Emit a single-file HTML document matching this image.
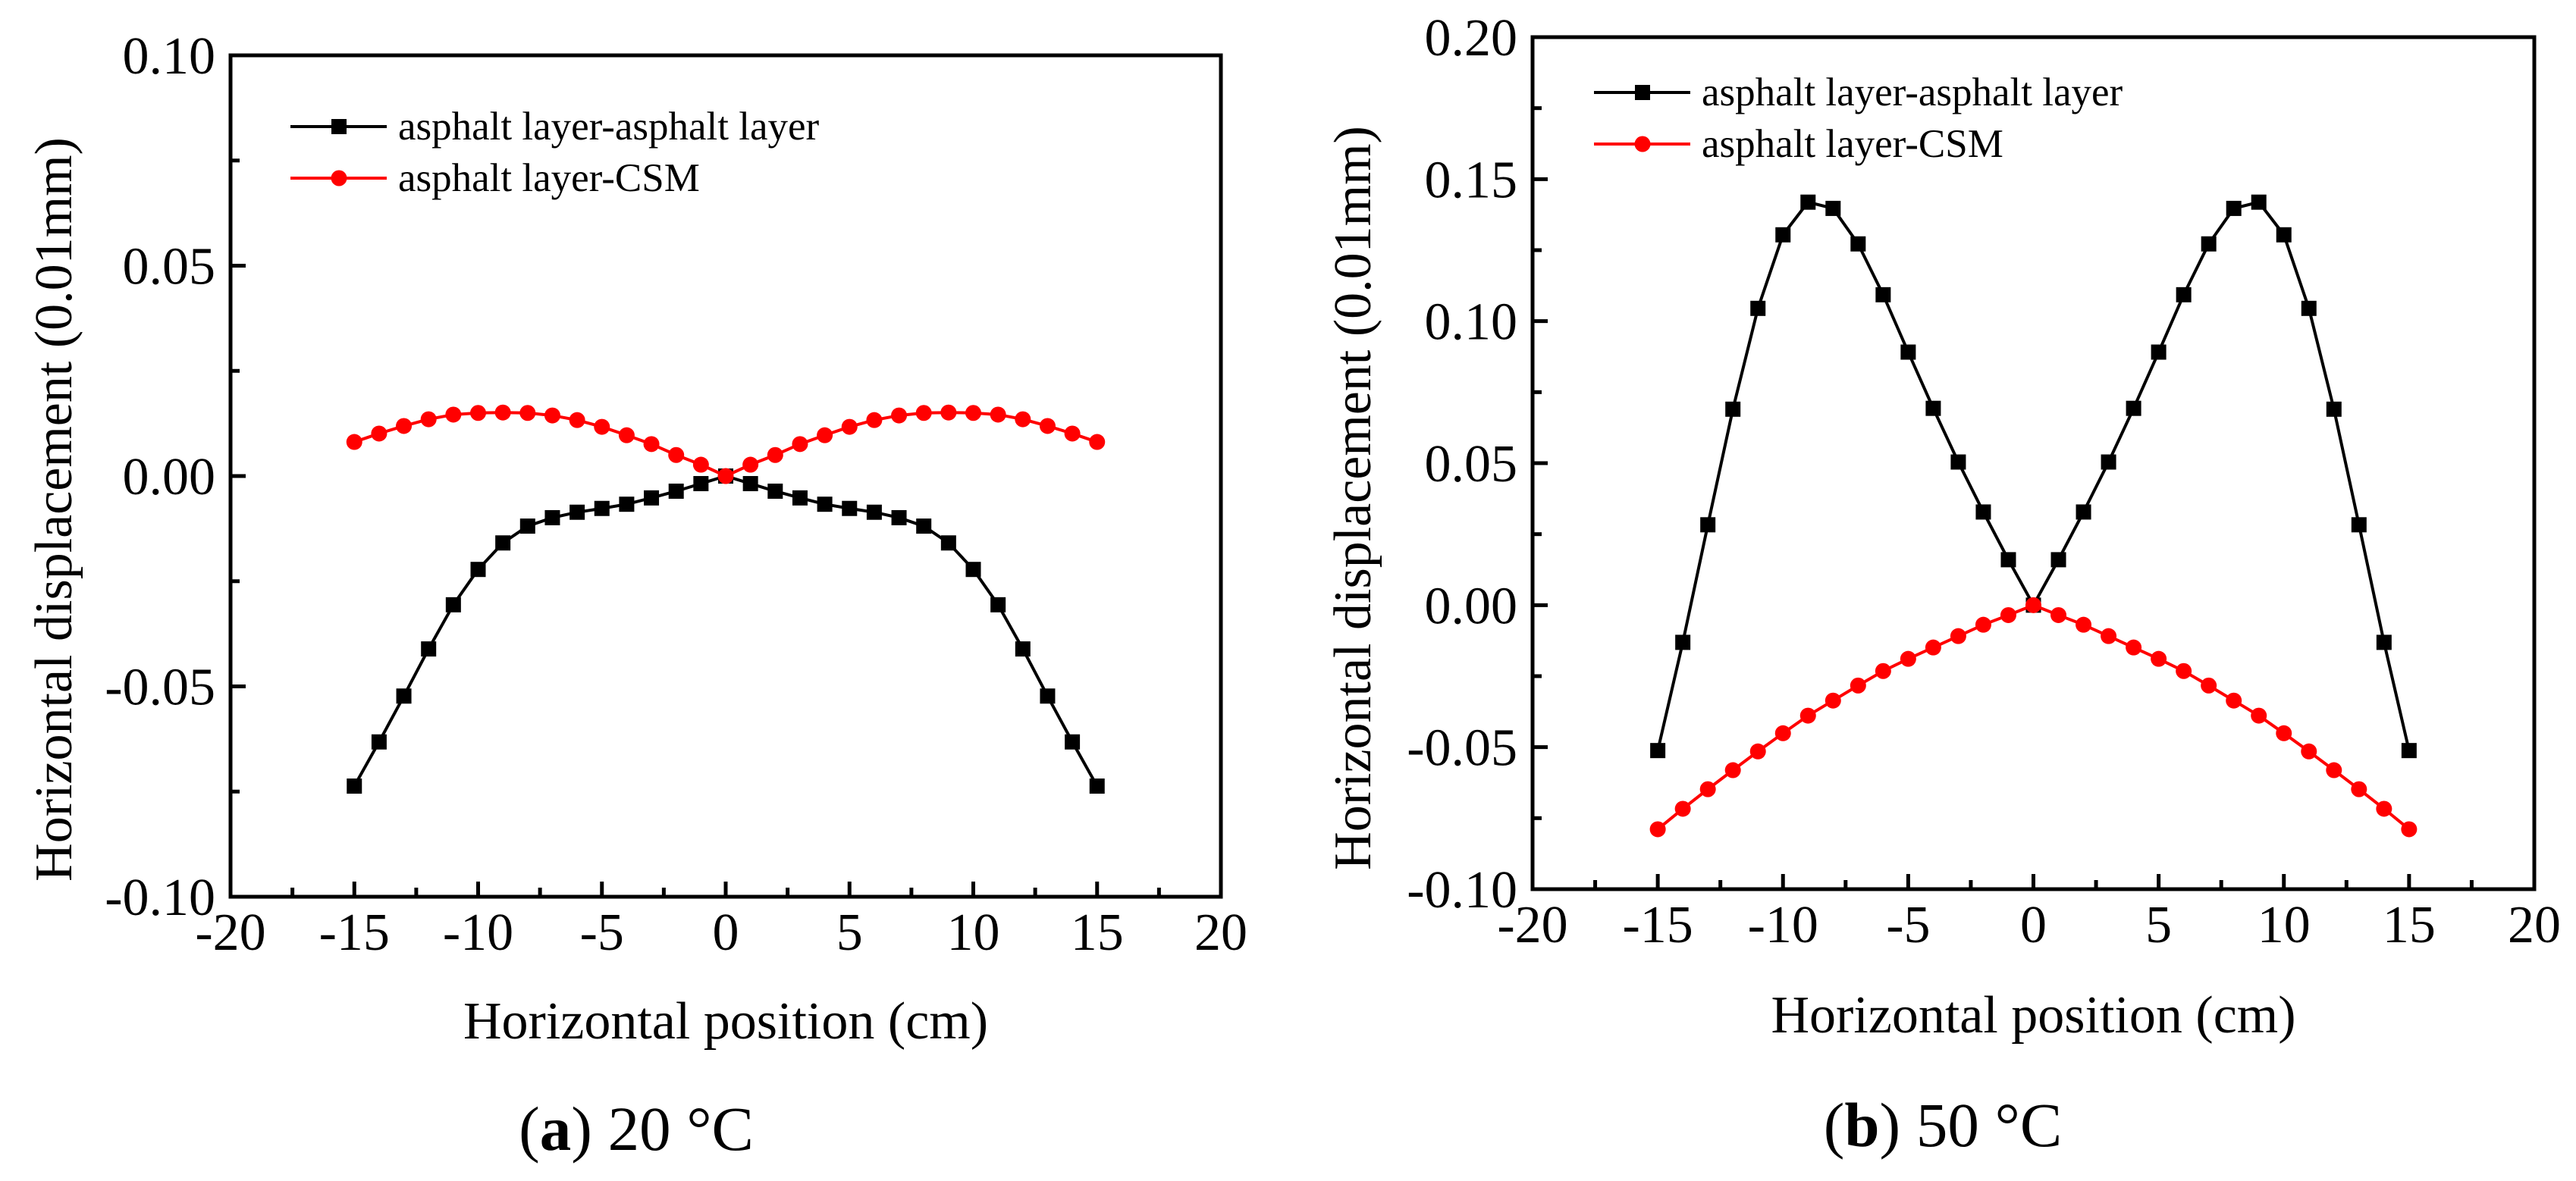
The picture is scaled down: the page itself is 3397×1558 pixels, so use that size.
<!DOCTYPE html>
<html><head><meta charset="utf-8"><style>
html,body{margin:0;padding:0;background:#fff;}
svg{display:block;font-family:"Liberation Serif",serif;}
</style></head><body>
<svg id="fig" width="3397" height="1558" viewBox="0 0 3397 1558" xmlns="http://www.w3.org/2000/svg"></svg>
<script>
const xCats = [-15,-14,-13,-12,-11,-10,-9,-8,-7,-6,-5,-4,-3,-2,-1,0,1,2,3,4,5,6,7,8,9,10,11,12,13,14,15];
const xTicks = [-20,-15,-10,-5,0,5,10,15,20];
const yTicksA = ["-0.10","-0.05","0.00","0.05","0.10"];
const yTicksB = ["-0.10","-0.05","0.00","0.05","0.10","0.15","0.20"];
const blackA = [-0.0737,-0.0632,-0.0523,-0.0411,-0.0306,-0.0222,-0.0159,-0.0119,-0.0099,-0.0086,-0.0077,-0.0067,-0.0052,-0.0036,-0.0018,0,-0.0018,-0.0036,-0.0052,-0.0067,-0.0077,-0.0086,-0.0099,-0.0119,-0.0159,-0.0222,-0.0306,-0.0411,-0.0523,-0.0632,-0.0737];
const redA = [0.0081,0.0101,0.0119,0.0135,0.0146,0.0150,0.0151,0.0150,0.0144,0.0133,0.0117,0.0097,0.0076,0.0050,0.0027,0,0.0027,0.0050,0.0076,0.0097,0.0117,0.0133,0.0144,0.0150,0.0151,0.0150,0.0146,0.0135,0.0119,0.0101,0.0081];
const blackB = [-0.0512,-0.0131,0.0283,0.0690,0.1045,0.1304,0.1419,0.1397,0.1272,0.1093,0.0891,0.0693,0.0504,0.0328,0.0160,0,0.0160,0.0328,0.0504,0.0693,0.0891,0.1093,0.1272,0.1397,0.1419,0.1304,0.1045,0.0690,0.0283,-0.0131,-0.0512];
const redB = [-0.0789,-0.0717,-0.0648,-0.0581,-0.0515,-0.0451,-0.0389,-0.0336,-0.0283,-0.0232,-0.0189,-0.0149,-0.0109,-0.0069,-0.0035,0,-0.0035,-0.0069,-0.0109,-0.0149,-0.0189,-0.0232,-0.0283,-0.0336,-0.0389,-0.0451,-0.0515,-0.0581,-0.0648,-0.0717,-0.0789];

const NS="http://www.w3.org/2000/svg";
const svg=document.getElementById('fig');
function mk(tag,attrs,parent){const e=document.createElementNS(NS,tag);for(const k in attrs)e.setAttribute(k,attrs[k]);(parent||svg).appendChild(e);return e;}

function panel(cfg){
  const g=mk('g',{});
  
  
  const L=cfg.L,R=cfg.R,T=cfg.T,B=cfg.B;
  const xs=v=>L+(v+20)/40*(R-L);
  const ymin=parseFloat(cfg.yt[0]),ymax=parseFloat(cfg.yt[cfg.yt.length-1]);
  const ys=v=>B-(v-ymin)/(ymax-ymin)*(B-T);
  // frame
  const fr=mk('rect',{x:L,y:T,width:R-L,height:B-T,fill:'none',stroke:'#000','stroke-width':5},g);
  
  
  // x ticks
  for(let v=-20;v<=20;v+=2.5){
    const major=(v%5===0);const len=major?20:12;
    mk('line',{x1:xs(v),x2:xs(v),y1:B,y2:B-len,stroke:'#000','stroke-width':5},g);
  }
  xTicks.forEach(v=>{
    const t=mk('text',{x:xs(v),y:B+70,'font-size':70,'text-anchor':'middle'},g);
    t.textContent=String(v);
    
    
  });
  // y ticks
  const step=0.025;
  for(let v=ymin;v<=ymax+1e-9;v+=step){
    const k=Math.round((v-ymin)/step);const major=(k%2===0);const len=major?20:12;
    mk('line',{x1:L,x2:L+len,y1:ys(v),y2:ys(v),stroke:'#000','stroke-width':5},g);
  }
  cfg.yt.forEach(s=>{
    const t=mk('text',{x:L-20,y:ys(parseFloat(s))+24,'font-size':70,'text-anchor':'end'},g);
    t.textContent=s;
    
    
  });
  // series
  function series(vals,color,shape,nm){
    const sg=mk('g',{},g);
    
    
    const pts=xCats.map((x,i)=>xs(x)+','+ys(vals[i])).join(' ');
    mk('polyline',{points:pts,fill:'none',stroke:color,'stroke-width':4},sg);
    xCats.forEach((x,i)=>{
      let m;
      if(shape==='sq') m=mk('rect',{x:xs(x)-10,y:ys(vals[i])-10,width:20,height:20,fill:color},sg);
      else m=mk('circle',{cx:xs(x),cy:ys(vals[i]),r:10.5,fill:color},sg);
      
      
    });
  }
  series(cfg.black,'#000','sq','series-asphalt-asphalt');
  series(cfg.red,'#ff0000','ci','series-asphalt-csm');
  // legend
  const lg=mk('g',{},g);
  
  
  const lx=cfg.lx,ly=cfg.ly;
  mk('line',{x1:lx,x2:lx+127,y1:ly,y2:ly,stroke:'#000','stroke-width':4},lg);
  mk('rect',{x:lx+54,y:ly-10,width:20,height:20,fill:'#000'},lg);
  let t=mk('text',{x:lx+142,y:ly+17,'font-size':53},lg);t.textContent='asphalt layer-asphalt layer';
  
  
  mk('line',{x1:lx,x2:lx+127,y1:ly+68,y2:ly+68,stroke:'#ff0000','stroke-width':4},lg);
  mk('circle',{cx:lx+64,cy:ly+68,r:10.5,fill:'#ff0000'},lg);
  t=mk('text',{x:lx+142,y:ly+85,'font-size':53},lg);t.textContent='asphalt layer-CSM';
  
  
  // axis titles
  t=mk('text',{x:(L+R)/2,y:cfg.xtY,'font-size':70,'text-anchor':'middle'},g);
  t.textContent='Horizontal position (cm)';
  
  
  t=mk('text',{x:0,y:0,'font-size':70,'text-anchor':'middle',transform:'translate('+(cfg.ytX+24)+','+cfg.ytY+') rotate(-90)'},g);
  t.textContent='Horizontal displacement (0.01mm)';
  
  
  t=mk('text',{x:cfg.capX,y:cfg.capY,'font-size':83,'text-anchor':'middle'},g);
  t.innerHTML='(<tspan font-weight="bold">'+cfg.cap[0]+'</tspan>) '+cfg.cap[1];
  
  
}
panel({name:'chart-20c',L:304,R:1610,T:73,B:1183,yt:yTicksA,black:blackA,red:redA,lx:383,ly:167,xtY:1370,ytX:70,ytY:672,capX:839,capY:1517,cap:['a','20 °C']});
panel({name:'chart-50c',L:2021,R:3342,T:49,B:1173,yt:yTicksB,black:blackB,red:redB,lx:2102,ly:122,xtY:1362,ytX:1783,ytY:657,capX:2562,capY:1512,cap:['b','50 °C']});
</script>
</body></html>
